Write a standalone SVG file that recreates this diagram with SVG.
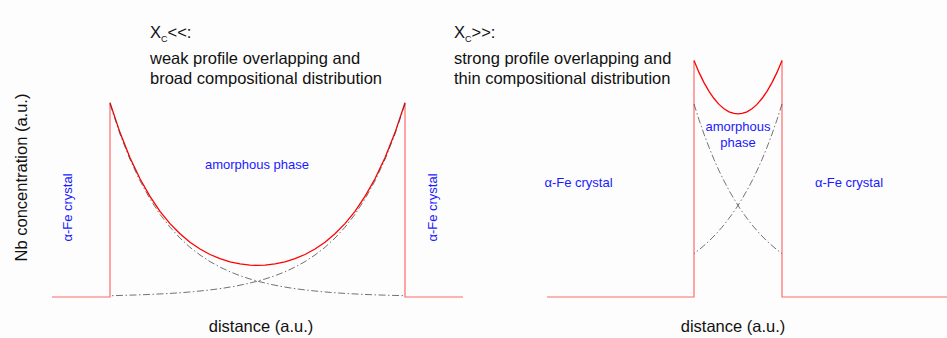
<svg xmlns="http://www.w3.org/2000/svg" width="947" height="338" viewBox="0 0 947 338">
<style>
.t{font-family:"Liberation Sans",Arial,sans-serif;fill:#111}
.ti{font-size:16.5px}
.lb{font-family:"Liberation Sans",Arial,sans-serif;fill:#1a1aff;font-size:13px}
.red{fill:none;stroke:#ff0000;stroke-width:1.3}
.pk{fill:none;stroke:#ff6a6a;stroke-width:1.2}
.dd{fill:none;stroke:#444;stroke-width:0.75;stroke-dasharray:7 2.5 1.5 2.5}
</style>
<rect width="947" height="338" fill="#fdfdfd"/>
<g id="connectors">
<path class="pk" d="M52,297 H110 V102.7 M405,102.7 V297 H463"/>
<path class="red" d="M110,102.7 L120,132.6 L130,157.7 L140,178.7 L150,196.4 L160,211.3 L170,223.6 L180,233.8 L190,242.3 L200,249.0 L210,254.5 L220,258.7 L230,261.9 L240,263.9 L250,265.1 L257.5,265.4 L265,265.1 L275,263.9 L285,261.9 L295,258.7 L305,254.5 L315,249.0 L325,242.3 L335,233.8 L345,223.6 L355,211.3 L365,196.4 L375,178.7 L385,157.7 L395,132.6 L405,102.7"/>
<path class="dd" d="M110,104 L120,134.1 L130,159.5 L140,180.9 L150,199 L160,214.3 L170,227.2 L180,238.1 L190,247.3 L200,255 L210,261.6 L220,267.1 L230,271.8 L240,275.7 L250,279 L260,281.8 L270,284.2 L280,286.2 L290,287.9 L300,289.3 L310,290.5 L320,291.5 L330,292.4 L340,293.1 L350,293.7 L360,294.2 L370,294.65 L380,295 L390,295.3 L400,295.6 L405,295.7"/>
<path class="dd" d="M405,104 L395,134.1 L385,159.5 L375,180.9 L365,199 L355,214.3 L345,227.2 L335,238.1 L325,247.3 L315,255 L305,261.6 L295,267.1 L285,271.8 L275,275.7 L265,279 L255,281.8 L245,284.2 L235,286.2 L225,287.9 L215,289.3 L205,290.5 L195,291.5 L185,292.4 L175,293.1 L165,293.7 L155,294.2 L145,294.65 L135,295 L125,295.3 L115,295.6 L110,295.7"/>
<path class="pk" d="M547,297 H694 V60.6 M782,60.6 V297 H947"/>
<path class="red" d="M694,60.6 L699,72.4 L704,82.6 L709,91.3 L714,98.5 L719,104.4 L724,108.7 L729,111.8 L734,113.4 L738,113.8 L742,113.4 L747,111.8 L752,108.7 L757,104.4 L762,98.5 L767,91.3 L772,82.6 L777,72.4 L782,60.6"/>
<path class="dd" d="M694,104 L699,119.7 L704,134.1 L709,147.3 L714,159.5 L719,170.7 L724,180.9 L729,190.4 L734,199 L739,207 L744,214.3 L749,221 L754,227.2 L759,232.9 L764,238.1 L769,242.9 L774,247.3 L779,251.3 L782,253.6"/>
<path class="dd" d="M782,104 L777,119.7 L772,134.1 L767,147.3 L762,159.5 L757,170.7 L752,180.9 L747,190.4 L742,199 L737,207 L732,214.3 L727,221 L722,227.2 L717,232.9 L712,238.1 L707,242.9 L702,247.3 L697,251.3 L694,253.6"/>
</g>
<g id="title-left">
<text class="t ti" x="150" y="38">X<tspan font-size="9" dy="4">C</tspan><tspan dy="-4">&lt;&lt;:</tspan></text>
<text class="t ti" x="150" y="63.5">weak profile overlapping and</text>
<text class="t ti" x="150" y="83.5">broad compositional distribution</text>
</g>
<g id="title-right">
<text class="t ti" x="454" y="38">X<tspan font-size="9" dy="4">C</tspan><tspan dy="-4">&gt;&gt;:</tspan></text>
<text class="t ti" x="454" y="63.5">strong profile overlapping and</text>
<text class="t ti" x="454" y="83.5">thin compositional distribution</text>
</g>
<g id="axis-y">
<text class="t ti" transform="translate(27,177.5) rotate(-90)" text-anchor="middle">Nb concentration (a.u.)</text>
</g>
<g id="axis-x-left"><text class="t ti" x="261" y="332" text-anchor="middle">distance (a.u.)</text></g>
<g id="axis-x-right"><text class="t ti" x="733" y="332" text-anchor="middle">distance (a.u.)</text></g>
<g id="label-amorphous-left"><text class="lb" x="257" y="169" text-anchor="middle">amorphous phase</text></g>
<g id="label-fe-left1"><text class="lb" transform="translate(72,207.5) rotate(-90)" text-anchor="middle">α-Fe crystal</text></g>
<g id="label-fe-left2"><text class="lb" transform="translate(437,207.5) rotate(-90)" text-anchor="middle">α-Fe crystal</text></g>
<g id="label-amorphous-right"><text class="lb" x="738" y="131" text-anchor="middle">amorphous</text><text class="lb" x="738" y="147" text-anchor="middle">phase</text></g>
<g id="label-fe-right1"><text class="lb" x="578.5" y="187" text-anchor="middle">α-Fe crystal</text></g>
<g id="label-fe-right2"><text class="lb" x="849" y="187" text-anchor="middle">α-Fe crystal</text></g>
</svg>
